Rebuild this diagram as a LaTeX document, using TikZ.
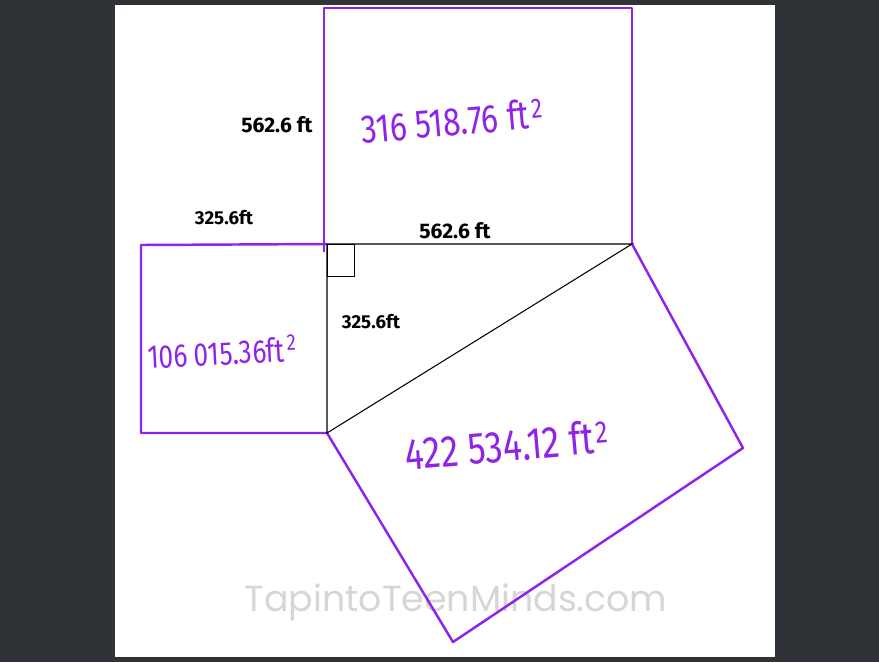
\documentclass[tikz,border=0pt]{standalone}
\usepackage{fontspec}
\setmainfont{Fira Sans}
\newfontfamily\handfont[FakeStretch=0.8]{Fira Sans}
\newfontfamily\markfont{Poppins}
\definecolor{AreaPurple}{HTML}{8F24E8}
\definecolor{Board}{HTML}{2F3237}
\usetikzlibrary{positioning}

\begin{document}
\begin{tikzpicture}[x=0.03cm, y=-0.03cm,
  side/.style={font=\bfseries\fontsize{16}{16}\selectfont},
  area/.style={AreaPurple, font=\handfont\fontsize{34}{34}\selectfont},
  square/.style={AreaPurple, line width=2.1pt, line join=round}]
  \useasboundingbox (0,0) rectangle (879,662);
  % board and page
  \fill[Board] (0,0) rectangle (879,662);
  \fill[white] (115,5) rectangle (775,657);
  % watermark
  \node[text=gray!32, font=\markfont\fontsize{31}{31}\selectfont] (mark) at (456,602) {TapintoTeenMinds.com};
  % corners of the triangle
  \coordinate (C) at (327,244);
  \coordinate (A) at (632,244);
  \coordinate (B) at (327,433);
  % squares on the three sides
  \draw[square] (C) ++(-3,8) -- (324,8) -- (632,8) -- (A);
  \draw[square] (C) -- (141,245) -- (141,433) -- (B);
  \draw[square] (B) -- (453,642) -- (743,448) -- (A);
  % right triangle
  \draw[line width=0.9pt] (C) -- (A) -- (B) -- cycle;
  \draw[line width=0.8pt] (C) rectangle (354,276);
  % side lengths
  \node[side, font=\bfseries\fontsize{18}{18}\selectfont] (topside) at (277,125) {562.6 ft};
  \node[side] (leftside) at (224,218) {325.6ft};
  \node[side, font=\bfseries\fontsize{18}{18}\selectfont] (legh) at (455,231) {562.6 ft};
  \node[side] (legv) at (371,322) {325.6ft};
  % areas
  \node[area, rotate=5] (bigsq) at (452,121) {316 518.76 ft\kern2pt\textsuperscript{2}};
  \node[area, rotate=3, font=\handfont\fontsize{28}{28}\selectfont] (smallsq) at (222,352) {106 015.36ft\kern2pt\textsuperscript{2}};
  \node[area, rotate=5, font=\handfont\fontsize{38}{38}\selectfont] (hyposq) at (507,445) {422 534.12 ft\kern2pt\textsuperscript{2}};
\end{tikzpicture}
\end{document}
